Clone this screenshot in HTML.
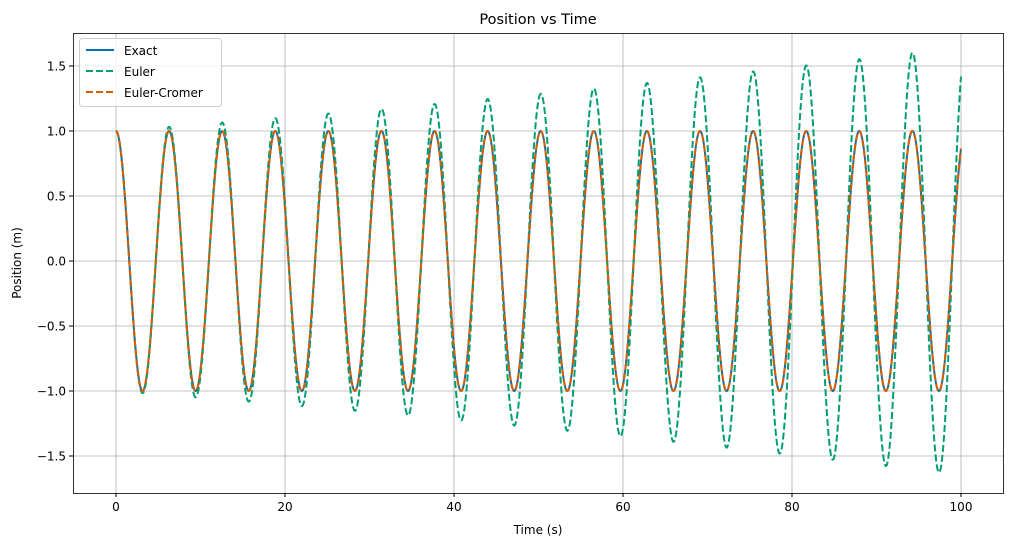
<!DOCTYPE html>
<html><head><meta charset="utf-8"><style>
body{margin:0;background:#fff;}
svg{display:block;font-family:"DejaVu Sans","Liberation Sans",sans-serif;}
</style></head><body>
<svg id="s" width="1012" height="547" xmlns="http://www.w3.org/2000/svg">
<rect width="1012" height="547" fill="#fff"/>
<g id="grid" stroke="#b0b0b0" stroke-width="0.8"></g>
<g id="lines" fill="none" stroke-width="2"></g>
<rect x="73.5" y="33.5" width="930" height="460" fill="none" stroke="#000" stroke-width="0.8"/>
<g id="ticks" font-size="12" fill="#000"></g>
<text x="538" y="24" font-size="14.5" text-anchor="middle">Position vs Time</text>
<text x="538" y="534" font-size="12" text-anchor="middle">Time (s)</text>
<text transform="translate(21,263) rotate(-90)" font-size="12" text-anchor="middle">Position (m)</text>
<g>
<rect x="79.5" y="38.5" width="142" height="68" rx="3" fill="#fff" fill-opacity="0.8" stroke="#ccc"/>
<line x1="86" y1="50" x2="114" y2="50" stroke="#0072B2" stroke-width="2"/>
<text x="124" y="55" font-size="12">Exact</text>
<line x1="86" y1="71" x2="114" y2="71" stroke="#009E73" stroke-width="2" stroke-dasharray="7,3"/>
<text x="124" y="76" font-size="12">Euler</text>
<line x1="86" y1="92" x2="114" y2="92" stroke="#D55E00" stroke-width="2" stroke-dasharray="7,3"/>
<text x="124" y="97" font-size="12">Euler-Cromer</text>
</g>
</svg>
<script>
var X=function(t){return 116+t*8.45},Y=function(v){return 261-v*130};
var g=document.getElementById('grid'),tk=document.getElementById('ticks'),L=document.getElementById('lines');
var ns='http://www.w3.org/2000/svg';
function el(p,n,a,txt){var e=document.createElementNS(ns,n);for(var k in a)e.setAttribute(k,a[k]);if(txt!==undefined)e.textContent=txt;p.appendChild(e);return e;}
for(var t=0;t<=100;t+=20){var x=X(t);el(g,'line',{x1:x,y1:33,x2:x,y2:493});el(tk,'line',{x1:x,y1:493,x2:x,y2:497,stroke:'#000'});el(tk,'text',{x:x,y:511,'text-anchor':'middle'},t);}
for(var i=-3;i<=3;i++){var v=i*0.5,y=Y(v);el(g,'line',{x1:73,y1:y,x2:1004,y2:y});el(tk,'line',{x1:69,y1:y,x2:73,y2:y,stroke:'#000'});el(tk,'text',{x:66,y:y+4.5,'text-anchor':'end'},(v<0?'\u2212':'')+Math.abs(v).toFixed(1));}
var dt=0.01,N=10000,xe=1,ve=0,xc=1,vc=0,pa='',pb='',pc='';
for(var n=0;n<=N;n++){var t=n*dt;if(n%4==0||n==N){var c=n?'L':'M';pa+=c+X(t).toFixed(2)+','+Y(Math.cos(t)).toFixed(2);pb+=c+X(t).toFixed(2)+','+Y(xe).toFixed(2);pc+=c+X(t).toFixed(2)+','+Y(xc).toFixed(2);}
var nx=xe+ve*dt,nv=ve-xe*dt;xe=nx;ve=nv;vc=vc-xc*dt;xc=xc+vc*dt;}
el(L,'path',{d:pa,stroke:'#0072B2'});
el(L,'path',{d:pb,stroke:'#009E73','stroke-dasharray':'7,3'});
el(L,'path',{d:pc,stroke:'#D55E00','stroke-dasharray':'7,3'});
</script>
</body></html>
